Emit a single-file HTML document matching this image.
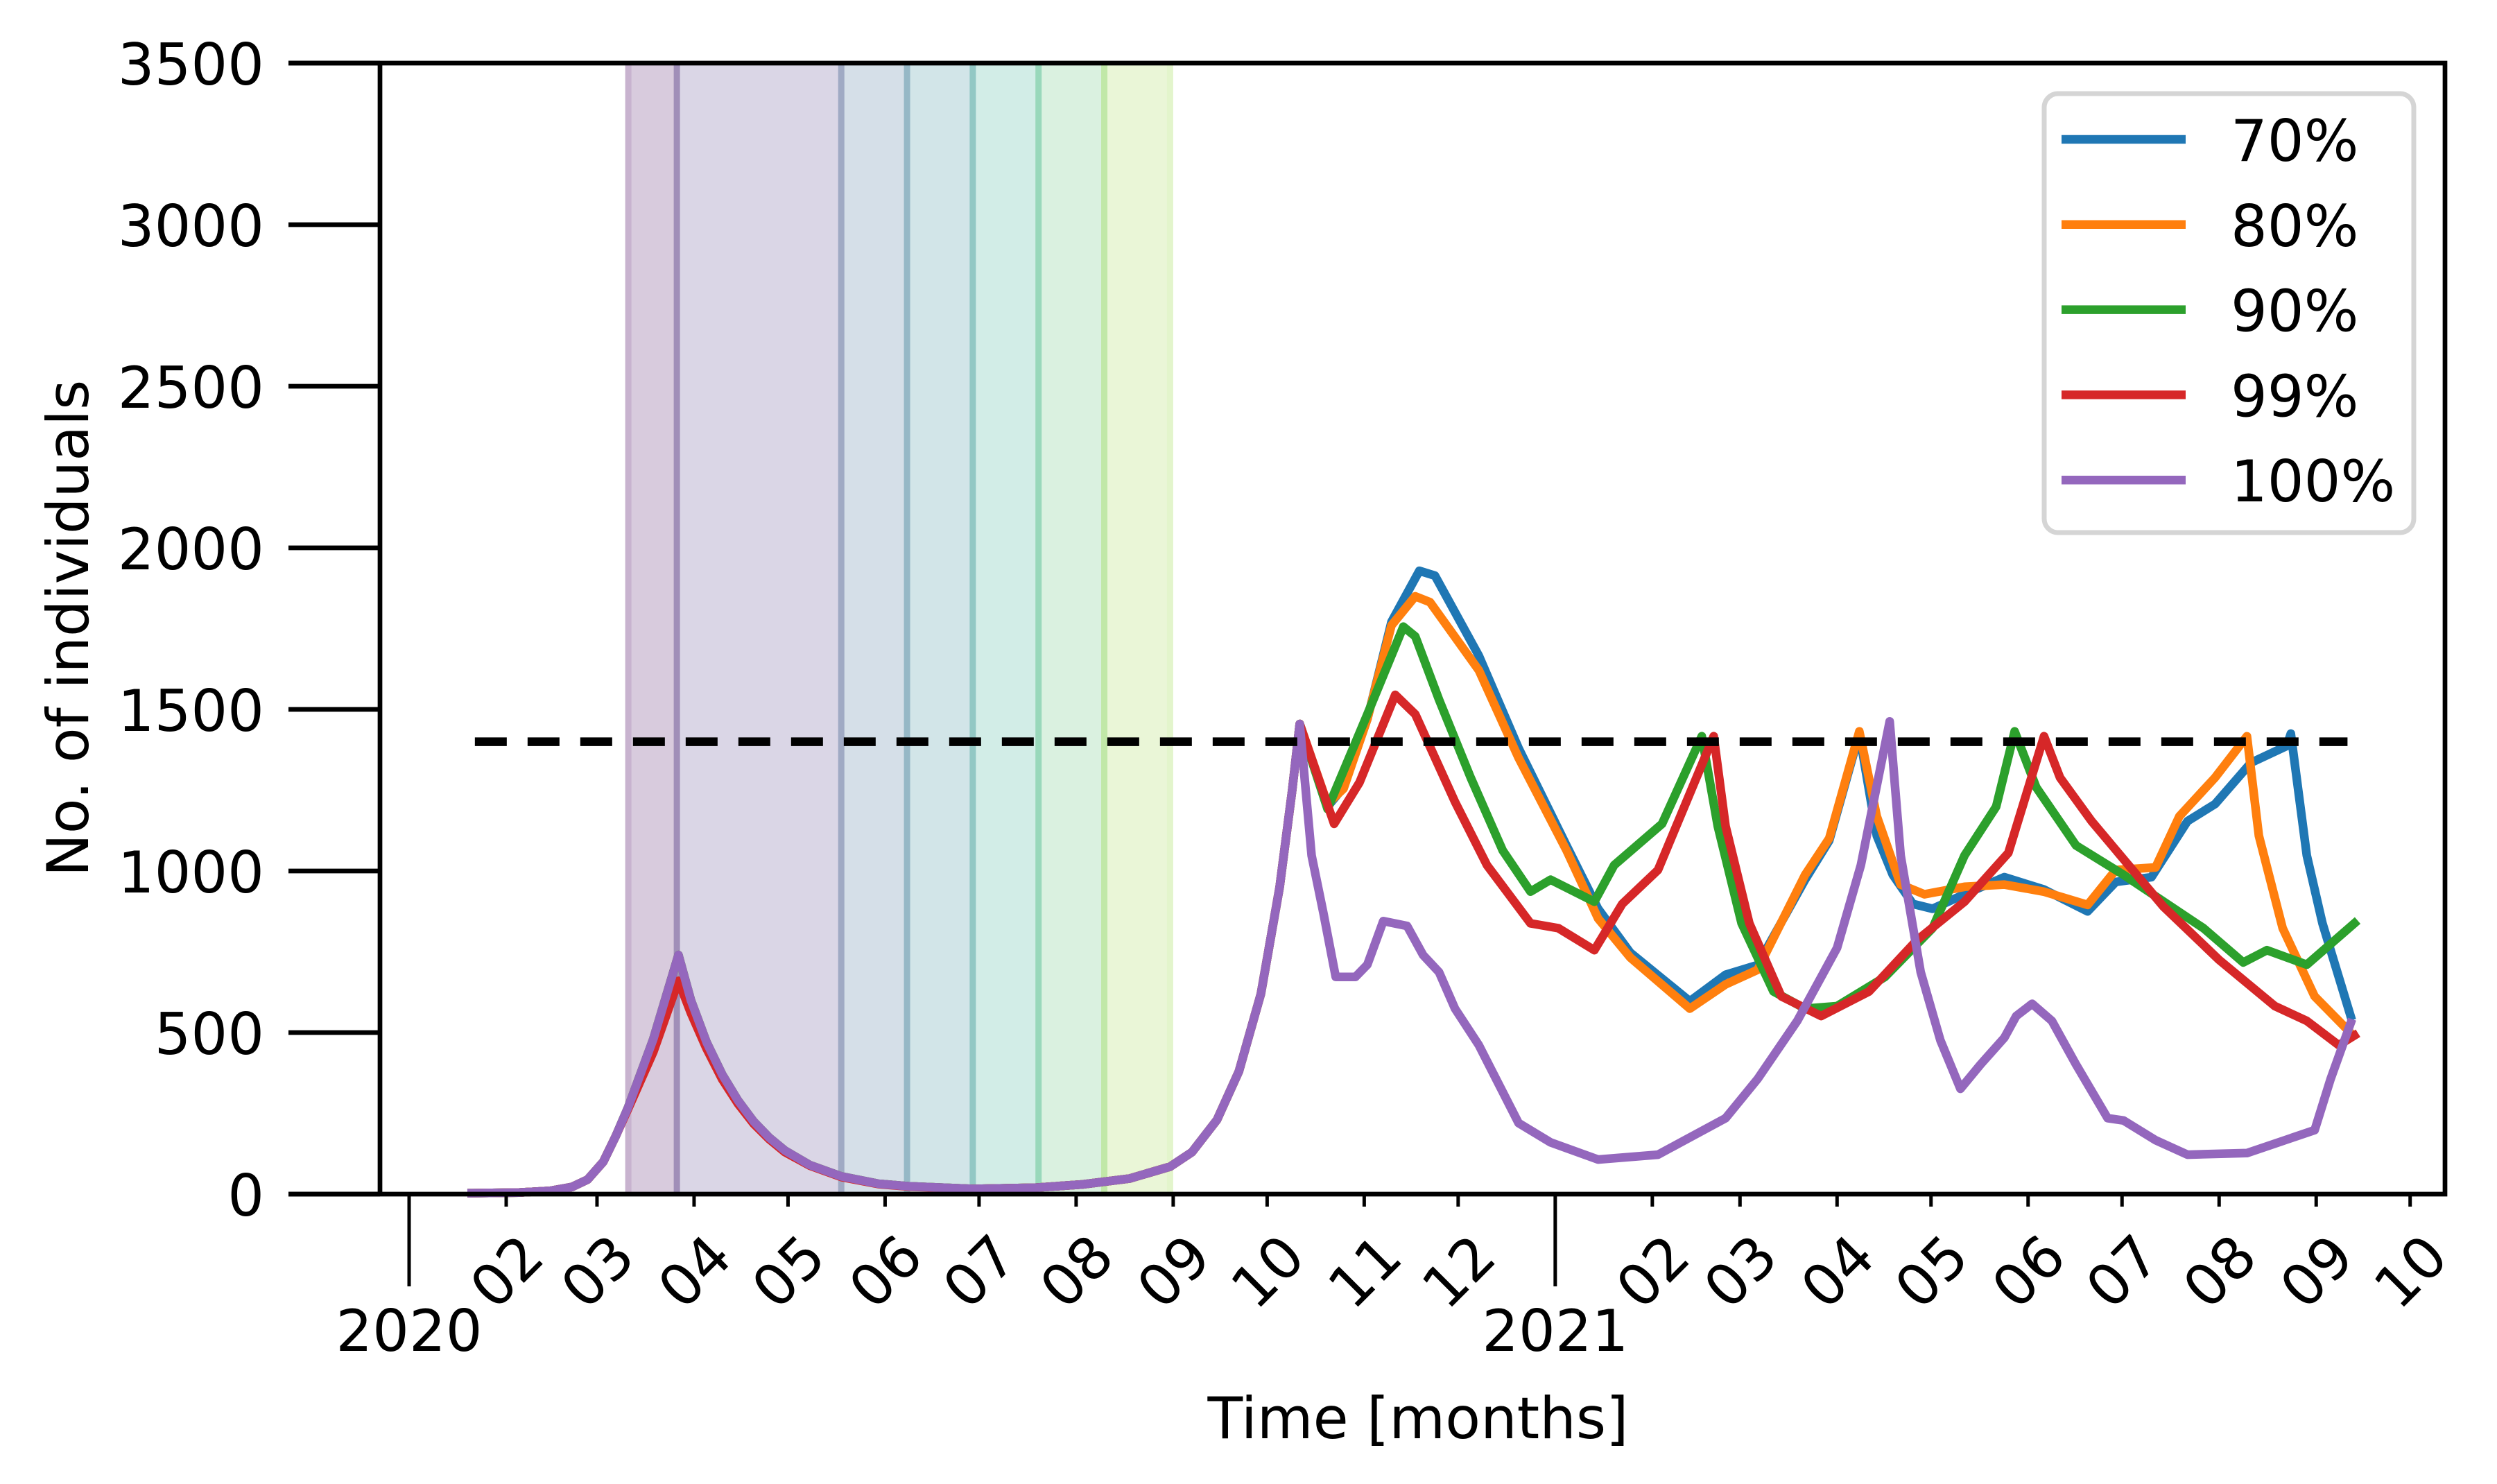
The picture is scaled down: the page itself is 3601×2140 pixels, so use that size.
<!DOCTYPE html>
<html><head><meta charset="utf-8"><style>
html,body{margin:0;padding:0;background:#fff;}
svg{display:block;font-family:"DejaVu Sans","Liberation Sans",sans-serif;}
</style></head><body>
<svg id="chart" width="3601" height="2140" viewBox="0 0 3601 2140" xmlns="http://www.w3.org/2000/svg">
<rect x="0" y="0" width="3601" height="2140" fill="#fff"/>
<g id="spans"></g>
<g id="series"></g>
<g id="axes"></g>
<g id="legend"></g>
</svg>
<script>
// ---- data (x in days since 2020-01-01, y in individuals) ----
const spanEdges = [70, 85.5, 138, 159, 180, 201, 222, 243];
const spanFills = ["#d8cbdd","#dad6e6","#d5dfe8","#d2e5e8","#d2ede7","#daf1e0","#eaf6d7"];
const spanLines = ["#c8b3cf","#a08fb8","#a0aac4","#96b8c6","#92c8c4","#99d8bb","#c1e8a8","#e3f5cc"];
const threshold = 1400;
const thresholdRange = [21, 619];
const yTicks = [0, 500, 1000, 1500, 2000, 2500, 3000, 3500];
const monthTickDays = [31,60,91,121,152,182,213,244,274,305,335,397,425,456,486,517,547,578,609,639];
const monthTickLabels = ["02","03","04","05","06","07","08","09","10","11","12","02","03","04","05","06","07","08","09","10"];
const yearTickDays = [0, 366];
const yearTickLabels = ["2020","2021"];
const seriesNames = ["70%","80%","90%","99%","100%"];
const seriesColors = ["#1f77b4","#ff7f0e","#2ca02c","#d62728","#9467bd"];

const earlyDays = [20,35,45,52,57,62,66,70,78,86,90,95,100,105,110,115,120,128,138,150,160,180,200,215,230,243,250,258,265,272,278,282,284.4];
const earlyVals = [3,5,10,22,45,100,180,270,480,740,600,470,370,290,225,175,135,90,55,32,24,16,20,30,48,85,130,230,380,620,950,1250,1455];
const earlyRedVals = [3,5,10,22,45,100,180,265,440,660,560,450,355,280,218,170,130,88,53,31,23,16,20,30,48,85,130,230,380,620,950,1250,1455];

const blueDays = [293.3,298.4,306,313.7,322.6,327.6,341.6,354.3,369.6,379.7,390,409,420.4,430.6,445.8,453.5,463.1,468.7,473.8,480.2,486.5,496.7,509.4,522,536,545,556.4,567.9,576.7,588.2,599.6,600.9,606,611,620];
const blueVals = [1199,1259,1470,1771,1929,1914,1666,1380,1079,883,747,597,679,709,973,1094,1425,1109,988,898,883,928,981,943,875,966,981,1154,1207,1335,1387,1425,1048,838,551];

const orangeDays = [293.3,298.4,306,313.7,321.3,326,341.6,354.3,369.6,379.7,390,409,420.4,430.6,445.8,453.5,463.1,468.7,476.3,483.9,496.7,509.4,522,536,545,557.7,565.3,576.7,586.9,590.7,598.3,608.5,620];
const orangeVals = [1207,1255,1470,1760,1850,1832,1621,1350,1064,853,732,574,649,694,988,1101,1432,1169,958,928,951,958,936,895,1003,1011,1169,1289,1417,1109,823,612,499];

const greenDays = [293.3,306,317.5,321.3,328.9,339,349.2,358.1,364.5,378.5,384.8,400.1,412.8,417.9,425.5,435.7,445.8,456,471.3,486.5,496.7,506.8,512.7,519.6,532.3,547.5,573,585.7,593.3,606,621.2];
const greenVals = [1192,1485,1756,1726,1530,1289,1064,936,973,905,1018,1146,1417,1139,838,627,574,582,672,823,1048,1199,1432,1259,1079,988,823,717,755,710,838];

const redDays = [295.4,303.5,314.9,321.3,334,344.2,358.1,367,378.5,387.4,398.8,416.6,420.4,428,438.2,450.9,466.2,481.4,496.7,510.7,522.1,527.2,537.3,560.2,578,595.8,606,616.2,621.2];
const redVals = [1146,1274,1545,1485,1214,1018,838,823,755,898,1003,1417,1139,838,612,551,627,785,905,1056,1417,1289,1154,890,725,582,536,461,491];

const purpleDays = [288.2,292,295.9,302.2,306,311.1,318.7,323.8,328.9,334,341.6,354.3,364.5,379.7,398.8,420.4,430.6,443.3,456,463.6,472.8,476.3,482.7,489,495.4,501.8,509.4,513.2,518.3,524.6,532.3,542.4,547.5,557.7,567.9,586.9,608.5,613.6,620];
const purpleVals = [1048,868,672,672,710,845,830,740,687,574,461,220,160,107,122,235,356,536,762,1018,1463,1048,687,476,326,401,484,551,589,536,401,235,228,167,122,127,198,356,529];

// ---- scales ----
const X0 = 590, PXD = 4.516;
const Y0 = 1722, PXV = 1631/3500;
const xs = d => X0 + PXD*d;
const ys = v => Y0 - PXV*v;
const NS = "http://www.w3.org/2000/svg";
function mk(tag, attrs, parent){const e=document.createElementNS(NS,tag);for(const k in attrs)e.setAttribute(k,attrs[k]);parent.appendChild(e);return e;}
const spansG=document.getElementById('spans'), seriesG=document.getElementById('series'), axesG=document.getElementById('axes'), legG=document.getElementById('legend');
const yTop=ys(3500);

// spans
for(let i=0;i<spanFills.length;i++){
  const r=mk('rect',{x:xs(spanEdges[i]),y:yTop,width:xs(spanEdges[i+1])-xs(spanEdges[i]),height:Y0-yTop,fill:spanFills[i]},spansG);
  
  
}
for(let i=0;i<spanEdges.length;i++){
  const l=mk('line',{x1:xs(spanEdges[i]),x2:xs(spanEdges[i]),y1:yTop,y2:Y0,stroke:spanLines[i],'stroke-width':9},spansG);
  
  
}

// series
function pathOf(ds,vs){return ds.map((d,i)=>(i?'L':'M')+xs(d).toFixed(1)+','+ys(vs[i]).toFixed(1)).join(' ');}
const allDays=[earlyDays.concat(blueDays),earlyDays.concat(orangeDays),earlyDays.concat(greenDays),earlyDays.concat(redDays),earlyDays.concat(purpleDays)];
const allVals=[earlyVals.concat(blueVals),earlyVals.concat(orangeVals),earlyVals.concat(greenVals),earlyRedVals.concat(redVals),earlyVals.concat(purpleVals)];
for(let s=0;s<5;s++){
  const p=mk('path',{d:pathOf(allDays[s],allVals[s]),fill:'none',stroke:seriesColors[s],'stroke-width':12.5,'stroke-linejoin':'round','stroke-linecap':'square'},seriesG);
  
  
}
// threshold
const th=mk('line',{x1:xs(thresholdRange[0]),x2:xs(thresholdRange[1]),y1:ys(threshold),y2:ys(threshold),stroke:'#000','stroke-width':12.5,'stroke-dasharray':'46 30'},seriesG);



// axes
const LEFT=416, SP=548, RIGHT=3526;
const sp=mk('path',{d:`M${LEFT},${yTop} L${RIGHT},${yTop} L${RIGHT},${Y0} L${LEFT},${Y0} M${SP},${yTop} L${SP},${Y0}`,fill:'none',stroke:'#000','stroke-width':6.7},axesG);


for(let i=0;i<yTicks.length;i++){
  const y=ys(yTicks[i]);
  const t=mk('line',{x1:LEFT,x2:SP,y1:y,y2:y,stroke:'#000','stroke-width':6.7},axesG);
  
  
  const tx=mk('text',{x:381,y:y+31,'font-size':83,'text-anchor':'end',fill:'#000'},axesG);
  tx.textContent=String(yTicks[i]);
  
  
}
for(let i=0;i<monthTickDays.length;i++){
  const x=xs(monthTickDays[i]);
  const t=mk('line',{x1:x,x2:x,y1:Y0,y2:Y0+18,stroke:'#000','stroke-width':5},axesG);
  
  
  const tx=mk('text',{x:x,y:1833+30,'font-size':83,'text-anchor':'middle',fill:'#000',transform:`rotate(-45 ${x} 1833)`},axesG);
  tx.textContent=monthTickLabels[i];
  
  
}
for(let i=0;i<yearTickDays.length;i++){
  const x=xs(yearTickDays[i]);
  const t=mk('line',{x1:x,x2:x,y1:Y0,y2:1855,stroke:'#000','stroke-width':5},axesG);
  
  
  const tx=mk('text',{x:x,y:1948,'font-size':83,'text-anchor':'middle',fill:'#000'},axesG);
  tx.textContent=yearTickLabels[i];
  
  
}
const xt=mk('text',{x:2045,y:2074,'font-size':83,'text-anchor':'middle',fill:'#000'},axesG);
xt.textContent='Time [months]';


const yt=mk('text',{x:0,y:0,'font-size':83,'text-anchor':'middle',fill:'#000',transform:'translate(127 906) rotate(-90)'},axesG);
yt.textContent='No. of individuals';



// legend
const lb=mk('rect',{x:2948,y:135,width:533,height:633,rx:20,fill:'#fff',stroke:'#d5d5d5','stroke-width':7},legG);


for(let s=0;s<5;s++){
  const cy=201+122.8*s;
  const g=mk('g',{},legG);
  
  
  mk('line',{x1:2973,x2:3152,y1:cy,y2:cy,stroke:seriesColors[s],'stroke-width':12.5},g);
  const t=mk('text',{x:3217,y:cy+31,'font-size':83,fill:'#000'},g);
  t.textContent=seriesNames[s];
}
</script>
</body></html>
